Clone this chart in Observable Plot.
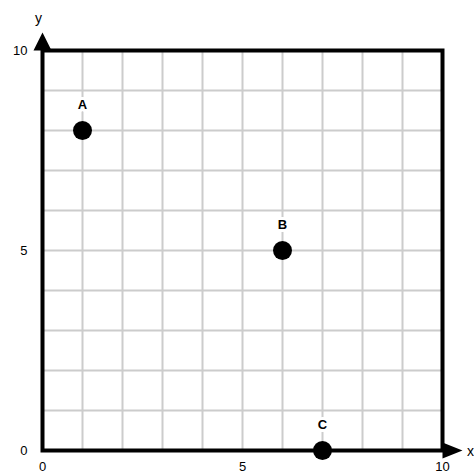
<!DOCTYPE html>
<html>
<head>
<meta charset="utf-8">
<script src="https://cdn.jsdelivr.net/npm/d3@7"></script>
<script src="https://cdn.jsdelivr.net/npm/@observablehq/plot@0.6"></script>
<style>
  html, body { margin: 0; padding: 0; background: #fff; }
  svg { display: block; }
</style>
</head>
<body>
<div id="chart"></div>
<script>
const pointLabels = ["A", "B", "C"];
const pointX = [1, 6, 7];
const pointY = [8, 5, 0];
const tickValues = [0, 5, 10];
const gridValues = [1, 2, 3, 4, 5, 6, 7, 8, 9];
const xLabel = "x";
const yLabel = "y";

const points = pointLabels.map((label, i) => ({label, x: pointX[i], y: pointY[i]}));

const arrowSymbol = {
  draw(ctx) {
    ctx.moveTo(-9, 0);
    ctx.lineTo(9, 0);
    ctx.lineTo(0, -18);
    ctx.closePath();
  }
};
const arrowSymbolX = {
  draw(ctx) {
    ctx.moveTo(0, -8);
    ctx.lineTo(0, 8);
    ctx.lineTo(20, 0);
    ctx.closePath();
  }
};

const font = "'Liberation Sans', sans-serif";

const chart = Plot.plot({
  width: 474,
  height: 476,
  marginLeft: 42,
  marginRight: 32,
  marginTop: 50,
  marginBottom: 26,
  style: {fontFamily: font, fontSize: "13px", color: "black", background: "white"},
  x: {domain: [0, 10]},
  y: {domain: [0, 10]},
  marks: [
    Plot.ruleX(gridValues, {stroke: "#cccccc", strokeWidth: 2}),
    Plot.ruleY(gridValues, {stroke: "#cccccc", strokeWidth: 2}),
    Plot.frame({stroke: "black", strokeWidth: 4}),
    Plot.axisX({ticks: tickValues, tickSize: 0, tickPadding: 11, fontSize: 13, label: null}),
    Plot.axisY({ticks: tickValues, tickSize: 0, tickPadding: 15, fontSize: 13, label: null}),
    Plot.dot([{x: 0, y: 10}], {x: "x", y: "y", symbol: arrowSymbol, fill: "black", stroke: null}),
    Plot.dot([{x: 10, y: 0}], {x: "x", y: "y", symbol: arrowSymbolX, fill: "black", stroke: null}),
    Plot.text([yLabel], {x: 0, y: 10, text: d => d, dy: -32, dx: -4, fontSize: 14}),
    Plot.text([xLabel], {x: 10, y: 0, text: d => d, dx: 28, dy: 1, fontSize: 14}),
    Plot.dot(points, {x: "x", y: "y", r: 9.5, fill: "black", stroke: null}),
    Plot.text(points, {x: "x", y: "y", text: "label", dy: -26, fontSize: 13, fontWeight: "bold", fill: "black", stroke: "white", strokeWidth: 6})
  ]
});
document.getElementById("chart").appendChild(chart);
</script>
</body>
</html>
